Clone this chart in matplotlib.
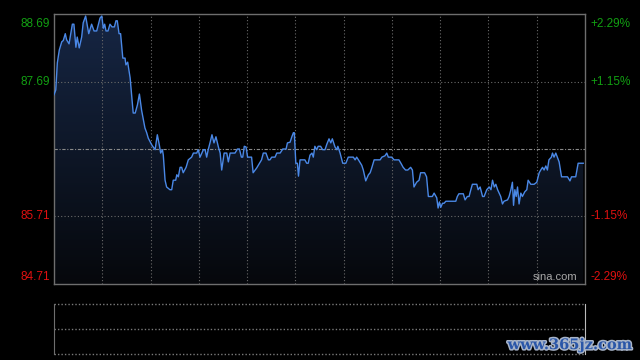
import numpy as np
import matplotlib
matplotlib.use("Agg")
import matplotlib.pyplot as plt
import matplotlib.patheffects as pe

plt.rcParams["font.family"] = ["Liberation Sans", "DejaVu Sans"]

# Intraday price (minute index from open, price)
minutes = [
    0.0, 0.8, 1.5, 2.4, 3.5, 4.2, 5.1, 5.7, 6.8, 8.3, 9.0, 9.9, 10.5, 11.4, 12.5,
    13.2, 14.3, 15.7, 17.0, 18.1, 19.3, 20.8, 21.6, 22.3, 22.9, 23.5, 24.4, 25.3,
    26.2, 27.3, 28.0, 28.6, 29.4, 30.1, 31.1, 32.1, 32.5, 33.3, 34.4, 35.8, 36.7,
    37.7, 38.6, 39.6, 41.1, 41.9, 42.6, 44.2, 45.7, 46.7, 47.6, 48.2, 49.0, 49.4,
    50.2, 50.9, 52.4, 53.2, 53.9, 55.0, 55.5, 56.2, 57.0, 57.7, 58.4, 59.7, 60.7,
    62.2, 63.0, 64.5, 65.2, 66.0, 67.5, 68.3, 69.0, 69.7, 70.5, 71.4, 72.3, 73.2,
    74.3, 75.1, 75.8, 76.9, 78.1, 78.8, 79.6, 81.8, 82.9, 83.8, 84.7, 85.3, 86.0,
    86.8, 87.5, 89.3, 90.0, 91.6, 93.8, 94.6, 95.8, 96.9, 97.6, 98.4, 99.9, 100.7,
    102.2, 103.4, 104.9, 105.5, 106.7, 107.5, 108.2, 108.6, 109.3, 110.0, 110.5,
    111.2, 113.4, 114.2, 114.9, 115.7, 116.6, 117.2, 117.9, 118.7, 119.4, 120.5,
    121.4, 122.5, 123.3, 124.3, 125.1, 125.8, 127.0, 127.8, 128.3, 129.3, 130.5,
    131.9, 133.0, 135.3, 136.1, 136.8, 137.6, 139.1, 139.8, 140.9, 142.1, 142.9,
    143.6, 144.7, 145.9, 147.4, 148.2, 149.6, 150.4, 151.1, 152.6, 153.7, 155.9,
    156.8, 157.8, 158.9, 159.9, 161.2, 162.0, 162.7, 163.9, 165.0, 165.7, 167.5,
    168.4, 169.2, 171.0, 171.8, 173.0, 173.6, 174.2, 174.8, 175.6, 176.3, 177.1,
    181.6, 182.3, 183.0, 185.0, 185.8, 186.8, 187.6, 188.4, 189.1, 191.1, 191.7,
    192.6, 193.7, 194.4, 195.6, 196.7, 197.5, 198.2, 199.0, 199.7, 200.5, 201.9,
    202.7, 203.4, 205.0, 205.7, 206.5, 207.2, 207.7, 208.3, 208.9, 209.5, 210.2,
    211.0, 211.7, 212.8, 213.7, 214.3, 215.5, 217.0, 218.2, 219.3, 220.0, 220.8,
    221.5, 222.3, 223.0, 223.7, 224.8, 225.3, 226.0, 226.8, 228.3, 229.4, 232.1,
    233.2, 233.9, 235.8, 236.9, 239.2,
]
prices = [
    87.50, 87.57, 87.97, 88.16, 88.28, 88.30, 88.40, 88.31, 88.25, 88.54, 88.54,
    88.20, 88.35, 88.19, 88.35, 88.56, 88.66, 88.40, 88.54, 88.44, 88.44, 88.63,
    88.66, 88.48, 88.54, 88.44, 88.44, 88.54, 88.50, 88.50, 88.59, 88.59, 88.40,
    88.40, 88.04, 88.04, 87.94, 87.98, 87.75, 87.23, 87.23, 87.35, 87.51, 87.27,
    87.01, 86.94, 86.86, 86.76, 86.69, 86.91, 86.76, 86.64, 86.69, 86.61, 86.24,
    86.14, 86.10, 86.10, 86.24, 86.24, 86.32, 86.29, 86.43, 86.43, 86.35, 86.43,
    86.54, 86.58, 86.64, 86.64, 86.69, 86.58, 86.69, 86.69, 86.58, 86.69, 86.79,
    86.91, 86.79, 86.88, 86.73, 86.64, 86.39, 86.64, 86.64, 86.51, 86.64, 86.64,
    86.70, 86.70, 86.58, 86.58, 86.74, 86.73, 86.58, 86.58, 86.35, 86.42, 86.54,
    86.64, 86.64, 86.54, 86.54, 86.58, 86.58, 86.64, 86.64, 86.70, 86.70, 86.79,
    86.80, 86.88, 86.94, 86.94, 86.49, 86.49, 86.30, 86.54, 86.54, 86.49, 86.49,
    86.61, 86.64, 86.58, 86.74, 86.69, 86.74, 86.74, 86.69, 86.69, 86.77, 86.85,
    86.79, 86.85, 86.73, 86.69, 86.74, 86.64, 86.49, 86.49, 86.58, 86.58, 86.54,
    86.58, 86.54, 86.46, 86.39, 86.23, 86.32, 86.35, 86.42, 86.54, 86.54, 86.54,
    86.58, 86.60, 86.64, 86.58, 86.58, 86.54, 86.54, 86.49, 86.43, 86.39, 86.39,
    86.43, 86.39, 86.14, 86.21, 86.24, 86.35, 86.35, 86.29, 86.00, 86.00, 86.05,
    85.98, 85.83, 85.92, 85.84, 85.90, 85.90, 85.93, 85.93, 86.00, 86.04, 86.04,
    85.95, 86.00, 86.00, 86.10, 86.18, 86.18, 86.10, 86.14, 86.00, 86.00, 86.10,
    86.14, 86.10, 86.24, 86.14, 86.18, 86.10, 86.00, 85.89, 85.93, 85.95, 86.00,
    86.10, 86.21, 85.87, 86.10, 86.00, 86.14, 85.89, 86.05, 86.00, 86.07, 86.10,
    86.24, 86.18, 86.18, 86.21, 86.35, 86.39, 86.43, 86.39, 86.45, 86.39, 86.54,
    86.58, 86.64, 86.58, 86.64, 86.51, 86.29, 86.29, 86.23, 86.29, 86.29, 86.49,
    86.49,
]

prev_close = 86.70
price_ticks = [88.69, 87.69, 85.71, 84.71]
pct_labels = ["+2.29%", "+1.15%", "-1.15%", "-2.29%"]

fig = plt.figure(figsize=(6.4, 3.6), dpi=100, facecolor="black")
ax = fig.add_axes([54 / 640, 1 - 284 / 360, 531 / 640, 270 / 360], facecolor="black")
vax = fig.add_axes([54 / 640, 1 - 354 / 360, 531 / 640, 50 / 360], facecolor="black")

ymin, ymax = 84.71, 88.69
ax.set_xlim(0, 240)
ax.set_ylim(ymin, ymax)

# gradient area under the price line
fill = ax.fill_between(minutes, prices, ymin, color="none", lw=0)
grad = np.linspace(1, 0, 256).reshape(-1, 1)
top_c = np.array([22, 38, 68]) / 255
bot_c = np.array([6, 8, 12]) / 255
img = (bot_c + (top_c - bot_c) * grad)[:, None, :]
im = ax.imshow(img, extent=[0, 240, ymin, ymax], aspect="auto", origin="upper", zorder=1)
im.set_clip_path(fill.get_paths()[0], transform=ax.transData)

ax.plot(minutes, prices, color="#4a88e6", lw=1.0, zorder=3)

# grid
for k in range(1, 11):
    ax.axvline(k * 240 / 11, color="#6a6a6a", lw=0.8, ls=(0, (1, 2)), zorder=2)
for v in [87.69, 85.71]:
    ax.axhline(v, color="#6a6a6a", lw=0.8, ls=(0, (1, 2)), zorder=2)
ax.axhline(prev_close, color="#8a8a8a", lw=0.8, ls=(0, (3, 1.5, 1, 1.5)), zorder=2)

ax.set_xticks([])
ax.set_yticks([])
for s in ax.spines.values():
    s.set_color("#6e6e6e")
    s.set_linewidth(1.0)

# axis labels
for val, pct in zip(price_ticks, pct_labels):
    col = "#12a012" if val > prev_close else "#e01010"
    if val == ymax:
        va, dy = "top", -3
    elif val == ymin:
        va, dy = "bottom", 1
    else:
        va, dy = "center", 0
    ax.annotate(f"{val:.2f}", xy=(0, val), xycoords=("axes fraction", "data"),
                xytext=(-3, dy), textcoords="offset points",
                ha="right", va=va, color=col, fontsize=8.5)
    ax.annotate(pct, xy=(1, val), xycoords=("axes fraction", "data"),
                xytext=(4, dy), textcoords="offset points",
                ha="left", va=va, color=col, fontsize=8.5)

ax.text(0.985, 0.008, "sina.com", transform=ax.transAxes, ha="right", va="bottom",
        color="#a8a8a8", fontsize=8)

# volume panel (empty)
vax.set_xlim(0, 240)
vax.set_ylim(0, 1)
vax.set_xticks([])
vax.set_yticks([])
vax.spines["left"].set_color("#6e6e6e")
vax.spines["right"].set_color("#bbbbbb")
vax.spines["top"].set_visible(False)
vax.spines["bottom"].set_visible(False)
for yv in [1.0, 0.5, 0.0]:
    vax.axhline(yv, color="#7a7a7a", lw=1.0, ls=(0, (1, 1.5)), clip_on=False)

# watermark
fig.text(0.988, 0.022, "www.365jz.com", ha="right", va="bottom", fontsize=10.5,
         fontweight="bold", family="DejaVu Serif", color="#2a56a8",
         path_effects=[pe.withStroke(linewidth=2.2, foreground="#a8b4c8")])

fig.savefig("out.png", dpi=100, facecolor="black")
